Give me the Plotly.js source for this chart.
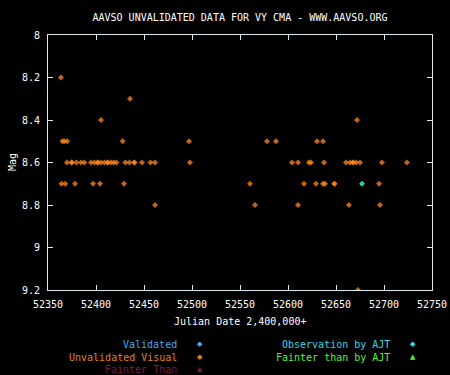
<!DOCTYPE html>
<html>
<head>
<meta charset="utf-8">
<script src="https://cdn.plot.ly/plotly-3.0.1.min.js"></script>
<style>html,body{margin:0;padding:0;background:#000;}#chart{width:450px;height:375px;}</style>
</head>
<body>
<div id="chart"></div>
<script>
// Unvalidated visual observations (Julian Date - 2,400,000, magnitude)
const visualJD = [
  52363.5, 52435.4, 52405.2,
  52365, 52367, 52370, 52427.8, 52496.9, 52578.1, 52587.5, 52630.2, 52636.5,
  52369.8, 52374.7, 52374.7, 52379.6, 52384.4, 52387.9, 52394.8, 52398.3, 52401.8, 52401.8,
  52405.2, 52408.8, 52412.2, 52412.2, 52415.6, 52418.4, 52421.3, 52430.6, 52434.8, 52440, 52440,
  52447.9, 52456.7, 52461.5, 52497.9, 52604.2, 52610.4, 52621.9, 52624, 52637.5, 52660.4,
  52664.5, 52667.7, 52667.7, 52671, 52675, 52697.9, 52723.9,
  52364, 52368, 52378.1, 52396.9, 52404.2, 52429.2, 52560.4, 52616.7, 52629.2, 52636.5,
  52638.5, 52648.3, 52648.3, 52694.8,
  52461.5, 52565.6, 52610.4, 52663.5, 52695.8,
  52671.9, 52672.9
];
const visualMag = [
  8.2, 8.3, 8.4,
  8.5, 8.5, 8.5, 8.5, 8.5, 8.5, 8.5, 8.5, 8.5,
  8.6, 8.6, 8.6, 8.6, 8.6, 8.6, 8.6, 8.6, 8.6, 8.6,
  8.6, 8.6, 8.6, 8.6, 8.6, 8.6, 8.6, 8.6, 8.6, 8.6, 8.6,
  8.6, 8.6, 8.6, 8.6, 8.6, 8.6, 8.6, 8.6, 8.6, 8.6,
  8.6, 8.6, 8.6, 8.6, 8.6, 8.6, 8.6,
  8.7, 8.7, 8.7, 8.7, 8.7, 8.7, 8.7, 8.7, 8.7, 8.7,
  8.7, 8.7, 8.7, 8.7,
  8.8, 8.8, 8.8, 8.8, 8.8,
  8.4, 9.2
];
// Observations by AJT
const ajtJD = [52677.1];
const ajtMag = [8.7];

const xTicks = [52350, 52400, 52450, 52500, 52550, 52600, 52650, 52700, 52750];
const yTicks = [8, 8.2, 8.4, 8.6, 8.8, 9, 9.2];

const legendLeft = [
  {label: 'Validated', color: '#4aa6f0', glyph: '\u25C6'},
  {label: 'Unvalidated Visual', color: '#e08028', glyph: '\u25C6'},
  {label: 'Fainter Than', color: '#7a1a48', glyph: '\u25B2'}
];
const legendRight = [
  {label: 'Observation by AJT', color: '#3ad6e0', glyph: '\u25C6'},
  {label: 'Fainter than by AJT', color: '#5cf03c', glyph: '\u25B2'}
];

const FONT = 'DejaVu Sans Mono, monospace';
const AX = '#dcecf0';

const traces = [
  {x: visualJD, y: visualMag, type: 'scatter', mode: 'markers',
   marker: {symbol: 'diamond', size: 4.6, color: '#ff8a1e', opacity: 0.75, line: {width: 0}},
   hoverinfo: 'x+y', showlegend: false},
  {x: ajtJD, y: ajtMag, type: 'scatter', mode: 'markers',
   marker: {symbol: 'diamond', size: 4.6, color: '#40e8d8', opacity: 0.85, line: {width: 0}},
   hoverinfo: 'x+y', showlegend: false}
];

// plot area: px x 48..432, y 35..290
const L = 48, R = 432, T = 35, B = 290;
const px = x => (x - L) / (R - L);
const py = y => (B - y) / (B - T);

const ann = [];
ann.push({text: 'Julian Date 2,400,000+', xref: 'paper', yref: 'paper', x: 0.5, y: py(321),
  xanchor: 'center', yanchor: 'middle', showarrow: false, font: {family: FONT, size: 10, color: '#ffffff'}});
ann.push({text: 'Mag', xref: 'paper', yref: 'paper', x: px(12), y: py(162), textangle: -90,
  xanchor: 'center', yanchor: 'middle', showarrow: false, font: {family: FONT, size: 10, color: '#ffffff'}});
const rowsY = [344, 357, 369];
legendLeft.forEach((e, i) => {
  ann.push({text: e.label, xref: 'paper', yref: 'paper', x: px(178.5), y: py(rowsY[i]),
    xanchor: 'right', yanchor: 'middle', showarrow: false, font: {family: FONT, size: 10, color: e.color}});
  ann.push({text: e.glyph, xref: 'paper', yref: 'paper', x: px(199.5), y: py(rowsY[i]),
    xanchor: 'center', yanchor: 'middle', showarrow: false, font: {family: 'DejaVu Sans', size: 7, color: e.color}});
});
legendRight.forEach((e, i) => {
  ann.push({text: e.label, xref: 'paper', yref: 'paper', x: px(391.5), y: py(rowsY[i]),
    xanchor: 'right', yanchor: 'middle', showarrow: false, font: {family: FONT, size: 10, color: e.color}});
  ann.push({text: e.glyph, xref: 'paper', yref: 'paper', x: px(412.5), y: py(rowsY[i]),
    xanchor: 'center', yanchor: 'middle', showarrow: false, font: {family: 'DejaVu Sans', size: 7, color: e.color}});
});

const layout = {
  width: 450, height: 375, autosize: false,
  paper_bgcolor: '#000000', plot_bgcolor: '#000000',
  margin: {l: L, r: 450 - R, t: T, b: 375 - B, pad: 0},
  title: {text: 'AAVSO UNVALIDATED DATA FOR VY CMA - WWW.AAVSO.ORG',
    font: {family: FONT, size: 10, color: '#ffffff'},
    xref: 'paper', x: 0.5, xanchor: 'center', yref: 'container', y: 1 - 17 / 375, yanchor: 'middle'},
  xaxis: {range: [52350, 52750], tickvals: xTicks, ticktext: xTicks.map(String),
    showgrid: false, zeroline: false, showline: true, mirror: 'ticks', linecolor: AX, linewidth: 1,
    ticks: 'inside', ticklen: 5, tickcolor: AX, tickwidth: 1, ticklabelstandoff: 5,
    tickfont: {family: FONT, size: 10, color: '#ffffff'}},
  yaxis: {range: [9.2, 8], tickvals: yTicks, ticktext: yTicks.map(String),
    showgrid: false, zeroline: false, showline: true, mirror: 'ticks', linecolor: AX, linewidth: 1,
    ticks: 'inside', ticklen: 5, tickcolor: AX, tickwidth: 1, ticklabelstandoff: 5,
    tickfont: {family: FONT, size: 10, color: '#ffffff'}},
  annotations: ann,
  showlegend: false
};

Plotly.newPlot('chart', traces, layout, {displayModeBar: false, staticPlot: true});
</script>
</body>
</html>
